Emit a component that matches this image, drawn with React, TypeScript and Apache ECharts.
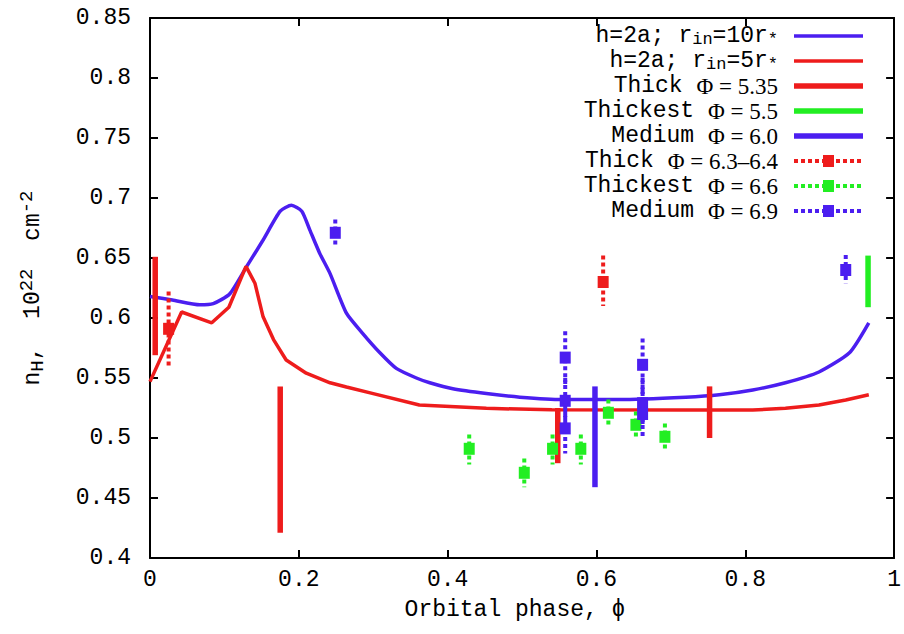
import React, { useEffect, useRef } from "react";
import * as echarts from "echarts";

const BLUE = "#4b1ef0";
const RED = "#ee1c1c";
const GREEN = "#22ee22";
const MONO = "'Liberation Mono', 'DejaVu Sans Mono', monospace";
const SERIF = "'Liberation Serif', 'DejaVu Serif', serif";

// Model column density vs orbital phase: [phase, nH]
const modelR10: [number, number][] = [
  [0, 0.618], [0.03, 0.615], [0.067, 0.611], [0.085, 0.612], [0.107, 0.62],
  [0.13, 0.643], [0.152, 0.665], [0.175, 0.689], [0.19, 0.694], [0.204, 0.689],
  [0.215, 0.673], [0.228, 0.654], [0.242, 0.637], [0.264, 0.604], [0.286, 0.587],
  [0.309, 0.571], [0.331, 0.558], [0.358, 0.55], [0.376, 0.546], [0.407, 0.541],
  [0.452, 0.537], [0.497, 0.534], [0.554, 0.532], [0.631, 0.532], [0.72, 0.534],
  [0.765, 0.536], [0.81, 0.54], [0.854, 0.546], [0.899, 0.555], [0.94, 0.571],
  [0.966, 0.596],
];

const modelR5: [number, number][] = [
  [0, 0.547], [0.0425, 0.605], [0.083, 0.596], [0.106, 0.609], [0.129, 0.643],
  [0.141, 0.629], [0.152, 0.601], [0.166, 0.582], [0.183, 0.565], [0.21, 0.554],
  [0.242, 0.546], [0.264, 0.5425], [0.3, 0.537], [0.362, 0.5275], [0.452, 0.5247],
  [0.54, 0.5235], [0.72, 0.5233], [0.81, 0.5233], [0.854, 0.5247], [0.899, 0.5275],
  [0.935, 0.5317], [0.966, 0.536],
];

// Observations: [phase, nH, lower, upper]
const thick535 = [
  [0.007, 0.61, 0.569, 0.651],
  [0.175, 0.482, 0.421, 0.543],
  [0.548, 0.502, 0.479, 0.525],
  [0.752, 0.521, 0.5, 0.543],
];
const thickest55 = [[0.965, 0.631, 0.609, 0.652]];
const medium60 = [[0.598, 0.501, 0.459, 0.543]];
const thick6364 = [
  [0.025, 0.591, 0.559, 0.622],
  [0.609, 0.63, 0.61, 0.652],
];
const thickest66 = [
  [0.429, 0.491, 0.478, 0.503],
  [0.503, 0.471, 0.459, 0.483],
  [0.541, 0.491, 0.478, 0.503],
  [0.579, 0.491, 0.478, 0.503],
  [0.616, 0.521, 0.509, 0.532],
  [0.653, 0.511, 0.499, 0.522],
  [0.692, 0.501, 0.489, 0.512],
];
const medium69 = [
  [0.249, 0.671, 0.659, 0.682],
  [0.558, 0.567, 0.545, 0.589],
  [0.558, 0.531, 0.51, 0.55],
  [0.558, 0.508, 0.487, 0.53],
  [0.662, 0.561, 0.54, 0.583],
  [0.662, 0.529, 0.51, 0.55],
  [0.662, 0.52, 0.5, 0.54],
  [0.935, 0.64, 0.629, 0.6525],
];

const legendLabels = [
  "h=2a; r{sub|in}=10r{sub|*}",
  "h=2a; r{sub|in}=5r{sub|*}",
  "Thick {phi|Φ = 5.35}",
  "Thickest {phi|Φ = 5.5}",
  "Medium {phi|Φ = 6.0}",
  "Thick {phi|Φ = 6.3–6.4}",
  "Thickest {phi|Φ = 6.6}",
  "Medium {phi|Φ = 6.9}",
];

function errorBarRenderer(color: string, dashed: boolean, lineWidth: number) {
  return (_params: any, api: any) => {
    const x = api.value(0);
    const c = api.value(1);
    const top = api.coord([x, api.value(3)]);
    const bot = api.coord([x, api.value(2)]);
    const mid = api.coord([x, c]);
    const children: any[] = [
      {
        type: "line",
        shape: { x1: top[0], y1: top[1], x2: bot[0], y2: bot[1] },
        style: { stroke: color, lineWidth, lineDash: dashed ? [4, 3] : null },
      },
    ];
    if (dashed) {
      children.push({
        type: "rect",
        shape: { x: mid[0] - 5.5, y: mid[1] - 6, width: 11, height: 12 },
        style: { fill: color },
      });
    }
    return { type: "group", children };
  };
}

function barSeries(data: number[][], color: string, dashed: boolean) {
  return {
    type: "custom",
    data,
    encode: { x: 0, y: [1, 2, 3] },
    renderItem: errorBarRenderer(color, dashed, dashed ? 4 : 5.5),
    z: 5,
  };
}

const legendRich = {
  sub: { fontSize: 17, fontFamily: MONO, lineHeight: 14, padding: [6, 0, 0, 0] },
  phi: { fontSize: 23, fontFamily: SERIF, lineHeight: 20 },
};

function legendGraphics() {
  const items: any[] = [];
  const samples = [
    { color: BLUE, width: 3.5, dashed: false },
    { color: RED, width: 3.5, dashed: false },
    { color: RED, width: 5.5, dashed: false },
    { color: GREEN, width: 5.5, dashed: false },
    { color: BLUE, width: 5.5, dashed: false },
    { color: RED, width: 4, dashed: true },
    { color: GREEN, width: 4, dashed: true },
    { color: BLUE, width: 4, dashed: true },
  ];
  legendLabels.forEach((label, i) => {
    const y = 36 + i * 25;
    const s = samples[i];
    items.push({
      type: "text",
      x: 778,
      y,
      style: {
        text: label,
        rich: legendRich,
        fontFamily: MONO,
        fontSize: 23,
        lineHeight: 20,
        fill: "#000",
        align: "right",
        verticalAlign: "middle",
      },
    });
    items.push({
      type: "line",
      shape: { x1: 794, y1: y, x2: 863, y2: y },
      style: { stroke: s.color, lineWidth: s.width, lineDash: s.dashed ? [4, 3] : null },
    });
    if (s.dashed) {
      items.push({
        type: "rect",
        shape: { x: 823, y: y - 6, width: 11, height: 12 },
        style: { fill: s.color },
      });
    }
  });
  return items;
}

export default function App() {
  const ref = useRef<HTMLDivElement>(null);

  useEffect(() => {
    document.body.style.margin = "0";
    if (!ref.current) return;
    const chart = echarts.init(ref.current, null, { renderer: "svg" });

    const frame = { show: true, onZero: false, lineStyle: { color: "#000", width: 2 } };
    const ticks = { show: true, inside: true, length: 8, lineStyle: { color: "#000", width: 2 } };
    const labelStyle = { color: "#000", fontFamily: MONO, fontSize: 23 };

    chart.setOption({
      animation: false,
      backgroundColor: "#fff",
      grid: { left: 150, right: 9, top: 18, bottom: 76 },
      xAxis: [
        {
          type: "value",
          min: 0,
          max: 1,
          interval: 0.2,
          position: "bottom",
          axisLine: frame,
          axisTick: ticks,
          splitLine: { show: false },
          axisLabel: { ...labelStyle, margin: 10 },
        },
        {
          type: "value",
          min: 0,
          max: 1,
          interval: 0.2,
          position: "top",
          axisLine: frame,
          axisTick: ticks,
          splitLine: { show: false },
          axisLabel: { show: false },
        },
      ],
      yAxis: [
        {
          type: "value",
          min: 0.4,
          max: 0.85,
          interval: 0.05,
          position: "left",
          axisLine: frame,
          axisTick: ticks,
          splitLine: { show: false },
          axisLabel: { ...labelStyle, margin: 19 },
        },
        {
          type: "value",
          min: 0.4,
          max: 0.85,
          interval: 0.05,
          position: "right",
          axisLine: frame,
          axisTick: ticks,
          splitLine: { show: false },
          axisLabel: { show: false },
        },
      ],
      series: [
        {
          type: "line",
          data: modelR10,
          symbol: "none",
          smooth: 0.2,
          lineStyle: { color: BLUE, width: 3.5 },
          z: 2,
        },
        {
          type: "line",
          data: modelR5,
          symbol: "none",
          lineStyle: { color: RED, width: 3.5 },
          z: 2,
        },
        barSeries(thick535, RED, false),
        barSeries(thickest55, GREEN, false),
        barSeries(medium60, BLUE, false),
        barSeries(thick6364, RED, true),
        barSeries(thickest66, GREEN, true),
        barSeries(medium69, BLUE, true),
      ],
      graphic: [
        ...legendGraphics(),
        {
          type: "text",
          x: 515,
          y: 610,
          style: {
            text: "Orbital phase, ϕ",
            fontFamily: MONO,
            fontSize: 23,
            fill: "#000",
            align: "center",
            verticalAlign: "middle",
          },
        },
        {
          type: "text",
          x: 33,
          y: 288,
          rotation: Math.PI / 2,
          style: {
            text: "n{sub|H},  10{sup|22}  cm{sup|-2}",
            rich: {
              sub: { fontSize: 19, fontFamily: MONO, lineHeight: 14, padding: [10, 0, 0, 0] },
              sup: { fontSize: 19, fontFamily: MONO, lineHeight: 14, padding: [0, 0, 12, 0] },
            },
            fontFamily: MONO,
            fontSize: 23,
            fill: "#000",
            align: "center",
            verticalAlign: "middle",
          },
        },
      ],
    });

    return () => chart.dispose();
  }, []);

  return <div ref={ref} style={{ width: 904, height: 634 }} />;
}
